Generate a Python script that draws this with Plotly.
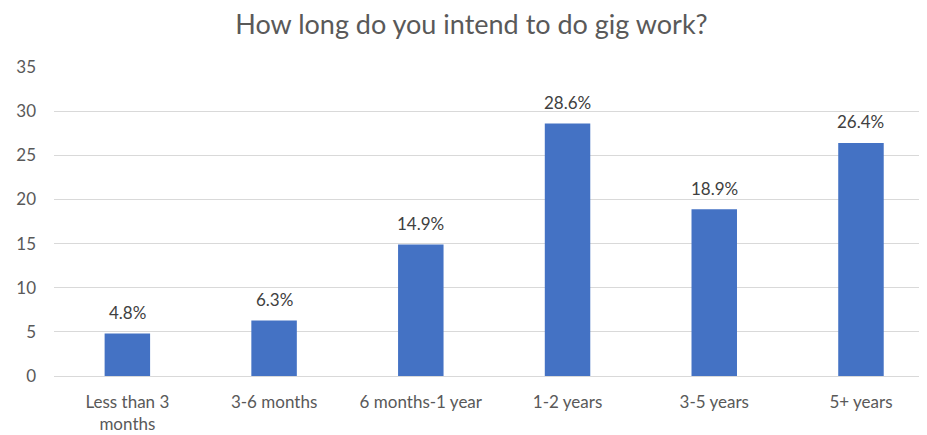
import plotly.graph_objects as go

categories = ["Less than 3<br>months", "3-6 months", "6 months-1 year", "1-2 years", "3-5 years", "5+ years"]
values = [4.8, 6.3, 14.9, 28.6, 18.9, 26.4]
labels = ["4.8%", "6.3%", "14.9%", "28.6%", "18.9%", "26.4%"]
y_ticks = [0, 5, 10, 15, 20, 25, 30, 35]

FONT = "Lato, Open Sans, sans-serif"

fig = go.Figure(go.Bar(
    x=categories, y=values,
    marker=dict(color="#4472C4", line=dict(width=0)),
))

for c, v, t in zip(categories, values, labels):
    fig.add_annotation(x=c, y=v, text=t, showarrow=False, yanchor="middle", yshift=21,
                       font=dict(family=FONT, size=17, color="#404040"))

fig.update_layout(
    width=927, height=435,
    margin=dict(l=41, r=8, t=59, b=67),
    paper_bgcolor="white", plot_bgcolor="white",
    bargap=0.69,
    showlegend=False,
    title=dict(text="How long do you intend to do gig work?", x=0.5, xanchor="center",
               y=0.962, yanchor="middle",
               font=dict(family=FONT, size=27, color="#595959")),
    font=dict(family=FONT, size=17, color="#595959"),
    xaxis=dict(type="category", range=[-0.5, 5.45], showgrid=False, showline=False,
               ticks="", ticklabelstandoff=14, tickfont=dict(size=17, color="#595959")),
    yaxis=dict(range=[0, 35], tickvals=y_ticks, showgrid=True, gridcolor="#d9d9d9",
               gridwidth=1, zeroline=True, zerolinecolor="#d9d9d9", zerolinewidth=1,
               showline=False, ticks="", ticklabelstandoff=17,
               tickfont=dict(size=17, color="#595959")),
)

fig.write_html("out.html")
